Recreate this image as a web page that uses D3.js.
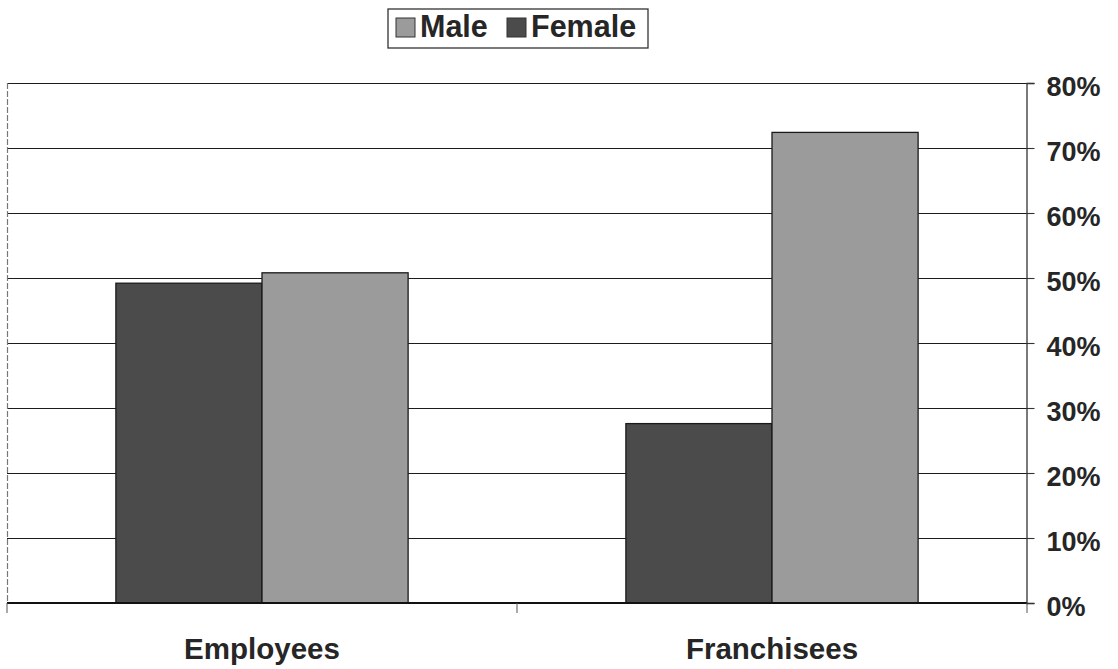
<!DOCTYPE html>
<html>
<head>
<meta charset="utf-8">
<script src="https://cdn.jsdelivr.net/npm/d3@7"></script>
<style>
  html, body { margin: 0; padding: 0; background: #fff; }
  svg { display: block; font-family: "Liberation Sans", Arial, sans-serif; }
</style>
</head>
<body>
<svg id="chart" width="1118" height="669"></svg>
<script>
// Share of males and females among employees and franchisees
const categories = ["Employees", "Franchisees"];
const seriesNames = ["Female", "Male"];          // drawing order inside each group
const legendOrder = ["Male", "Female"];
const maleValues = [0.508, 0.724];
const femaleValues = [0.492, 0.276];
const yTicks = [0, 0.1, 0.2, 0.3, 0.4, 0.5, 0.6, 0.7, 0.8];

const colors = { Male: "#9b9b9b", Female: "#4b4b4b" };
const values = { Male: maleValues, Female: femaleValues };

const svg = d3.select("#chart");
const plot = { left: 7, right: 1027, top: 83, bottom: 603 };

const x = d3.scaleBand().domain(categories).range([plot.left, plot.right]).padding(0);
const groupWidth = x.bandwidth() * 0.573;
const x1 = d3.scaleBand().domain(seriesNames).range([0, groupWidth]).padding(0);
const y = d3.scaleLinear().domain([0, 0.8]).range([plot.bottom, plot.top]);

// Horizontal gridlines
svg.append("g")
  .selectAll("line")
  .data(yTicks.filter(d => d > 0))
  .join("line")
  .attr("x1", plot.left).attr("x2", plot.right)
  .attr("y1", d => Math.round(y(d)) + 0.5).attr("y2", d => Math.round(y(d)) + 0.5)
  .attr("stroke", "#1c1c1c").attr("stroke-width", 1.2);

// Left plot border
svg.append("line")
  .attr("x1", plot.left + 0.5).attr("x2", plot.left + 0.5)
  .attr("y1", plot.top).attr("y2", plot.bottom)
  .attr("stroke", "#777").attr("stroke-width", 1.2)
  .attr("stroke-dasharray", "6,2");

// Bars
const groups = svg.append("g")
  .selectAll("g")
  .data(categories)
  .join("g")
  .attr("transform", d => `translate(${x(d) + (x.bandwidth() - groupWidth) / 2},0)`);

groups.selectAll("rect")
  .data((d, i) => seriesNames.map(s => ({ s, v: values[s][i] })))
  .join("rect")
  .attr("x", d => x1(d.s))
  .attr("width", x1.bandwidth())
  .attr("y", d => y(d.v))
  .attr("height", d => y(0) - y(d.v))
  .attr("fill", d => colors[d.s])
  .attr("stroke", "#1a1a1a")
  .attr("stroke-width", 1.3);

// Category axis (bottom)
const xAxis = svg.append("g")
  .attr("transform", `translate(0,${plot.bottom})`);
xAxis.append("line")
  .attr("x1", plot.left).attr("x2", plot.right)
  .attr("stroke", "#111").attr("stroke-width", 2);
xAxis.selectAll("line.tick")
  .data(categories.map(c => x(c)).concat([plot.right]))
  .join("line")
  .attr("class", "tick")
  .attr("x1", d => d).attr("x2", d => d)
  .attr("y1", 0).attr("y2", 10)
  .attr("stroke", "#555").attr("stroke-width", 1);
xAxis.selectAll("text")
  .data(categories)
  .join("text")
  .attr("x", d => x(d) + x.bandwidth() / 2)
  .attr("y", 56)
  .attr("text-anchor", "middle")
  .attr("font-size", 29.5)
  .attr("font-weight", "bold")
  .attr("fill", "#262626")
  .text(d => d);

// Value axis (right)
const yAxis = svg.append("g")
  .attr("transform", `translate(${plot.right - 0.5},0)`)
  .call(d3.axisRight(y).tickValues(yTicks).tickFormat(d3.format(".0%")).tickSize(8).tickPadding(12));
yAxis.select(".domain").attr("stroke", "#333").attr("stroke-width", 1.3);
yAxis.selectAll(".tick line").attr("stroke", "#333").attr("stroke-width", 1.1);
yAxis.selectAll(".tick text")
  .attr("font-family", "'Liberation Sans', Arial, sans-serif")
  .attr("font-size", 27)
  .attr("font-weight", "bold")
  .attr("fill", "#262626")
  .attr("dy", "0.45em");

// Legend
const legend = svg.append("g");
legend.append("rect")
  .attr("x", 388).attr("y", 9).attr("width", 260).attr("height", 39)
  .attr("fill", "#fff").attr("stroke", "#333").attr("stroke-width", 1.3);
const legendItems = legend.selectAll("g")
  .data(legendOrder)
  .join("g")
  .attr("transform", (d, i) => `translate(${i === 0 ? 396 : 507},18)`);
legendItems.append("rect")
  .attr("width", 19).attr("height", 19)
  .attr("fill", d => colors[d])
  .attr("stroke", "#333").attr("stroke-width", 1);
legendItems.append("text")
  .attr("x", 24).attr("y", 19)
  .attr("font-size", 30.5)
  .attr("font-weight", "bold")
  .attr("fill", "#262626")
  .text(d => d);
</script>
</body>
</html>
